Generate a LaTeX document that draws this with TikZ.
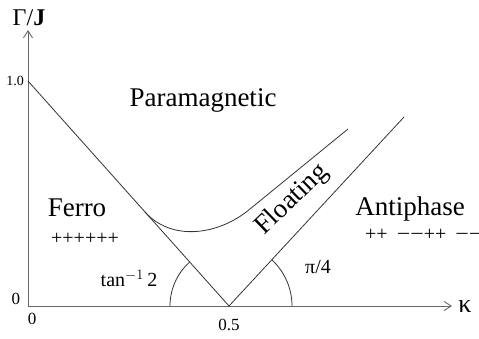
\documentclass[tikz,border=0pt]{standalone}
\usepackage{fontspec}
\setmainfont{Liberation Serif}
\usetikzlibrary{arrows.meta}
\newcommand{\lmin}{\scalebox{1.2}[1]{−}}
\begin{document}
\begin{tikzpicture}[x=1pt,y=1pt,
  ln/.style={draw=black!80, line width=0.8pt},
  ax/.style={draw=black!60, line width=0.9pt, -{Straight Barb[length=7pt,width=9pt]}},
  big/.style={font=\fontsize{27}{30}\selectfont, inner sep=0pt},
  mid/.style={font=\fontsize{20}{22}\selectfont, inner sep=0pt},
  small/.style={font=\fontsize{17}{19}\selectfont, inner sep=0pt}]
\useasboundingbox (0,0) rectangle (479,339);
% axes
\coordinate (O) at (28,33);
\coordinate (ytip) at (28,309);
\coordinate (xtip) at (452,33);
\draw[ax] (O) -- (ytip);
\draw[ax] (O) -- (xtip);
% lines
\coordinate (A) at (28,258);
\coordinate (H) at (229,33);
\coordinate (R) at (404,222);
\coordinate (C0) at (145,127);
\coordinate (C2) at (250,130);
\coordinate (C3) at (348,210);
\draw[ln] (A) -- (H) -- (R);
\draw[ln] (C0) .. controls (172,97) and (219,104) .. (C2) -- (C3);
% arcs
\draw[ln] (170,33) arc[start angle=180,end angle=132,radius=59];
\draw[ln] (292,33) arc[start angle=0,end angle=47,radius=63];
% labels
\node[font=\fontsize{24}{26}\selectfont, inner sep=0pt] (gj) at (29,321) {Γ/\textbf{J}};
\node[font=\fontsize{14}{16}\selectfont, inner sep=0pt] (one) at (15,258) {1.0};
\node[small] (zy) at (16,40) {0};
\node[small] (zx) at (32,20) {0};
\node[small] (half) at (229,14) {0.5};
\node[font=\fontsize{26}{28}\selectfont, inner sep=0pt] (kap) at (465,32) {κ};
\node[big] (para) at (203,239) {Paramagnetic};
\node[big] (ferro) at (77,131) {Ferro};
\node[mid] (pp) at (85,100) {++++++};
\node[mid, anchor=base] (tan) at (129,52) {tan$^{-1}$\,2};
\node[big, rotate=44] (flo) at (292,139) {Floating};
\node[big] (anti) at (410,130) {Antiphase};
\node[mid, anchor=west] (apm) at (365,104) {++\hspace{9pt}\lmin\lmin++\hspace{9pt}\lmin\lmin};
\node[mid, anchor=base] (pi) at (318,65) {π/4};
\end{tikzpicture}
\end{document}
